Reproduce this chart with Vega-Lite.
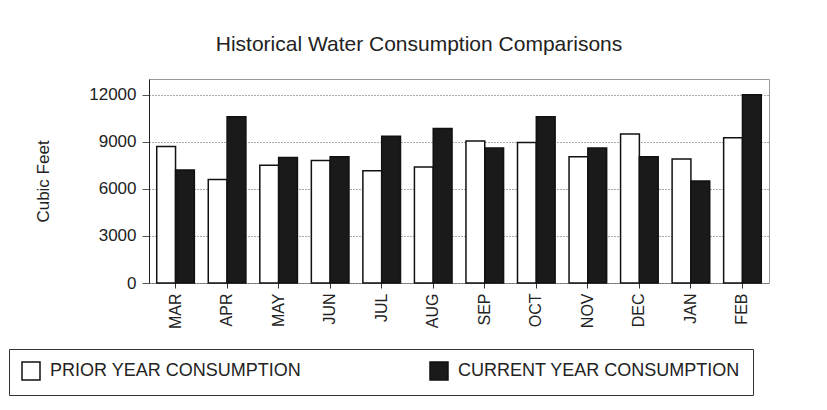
{
  "$schema": "https://vega.github.io/schema/vega-lite/v6.json",
  "width": 620,
  "height": 204,
  "padding": {"left": 8, "top": 34, "right": 8, "bottom": 5},
  "background": "white",
  "config": {
    "view": {"stroke": "#999", "strokeWidth": 1},
    "font": "Liberation Sans"
  },
  "title": {
    "text": "Historical Water Consumption Comparisons",
    "font": "Liberation Sans",
    "fontSize": 21,
    "fontWeight": "normal",
    "color": "#222",
    "offset": 24,
    "dx": -40
  },
  "data": {
    "values": [
      {"month": "MAR", "series": "PRIOR YEAR CONSUMPTION", "value": 8700},
      {"month": "MAR", "series": "CURRENT YEAR CONSUMPTION", "value": 7200},
      {"month": "APR", "series": "PRIOR YEAR CONSUMPTION", "value": 6600},
      {"month": "APR", "series": "CURRENT YEAR CONSUMPTION", "value": 10600},
      {"month": "MAY", "series": "PRIOR YEAR CONSUMPTION", "value": 7500},
      {"month": "MAY", "series": "CURRENT YEAR CONSUMPTION", "value": 8000},
      {"month": "JUN", "series": "PRIOR YEAR CONSUMPTION", "value": 7800},
      {"month": "JUN", "series": "CURRENT YEAR CONSUMPTION", "value": 8050},
      {"month": "JUL", "series": "PRIOR YEAR CONSUMPTION", "value": 7150},
      {"month": "JUL", "series": "CURRENT YEAR CONSUMPTION", "value": 9350},
      {"month": "AUG", "series": "PRIOR YEAR CONSUMPTION", "value": 7400},
      {"month": "AUG", "series": "CURRENT YEAR CONSUMPTION", "value": 9850},
      {"month": "SEP", "series": "PRIOR YEAR CONSUMPTION", "value": 9050},
      {"month": "SEP", "series": "CURRENT YEAR CONSUMPTION", "value": 8600},
      {"month": "OCT", "series": "PRIOR YEAR CONSUMPTION", "value": 8950},
      {"month": "OCT", "series": "CURRENT YEAR CONSUMPTION", "value": 10600},
      {"month": "NOV", "series": "PRIOR YEAR CONSUMPTION", "value": 8050},
      {"month": "NOV", "series": "CURRENT YEAR CONSUMPTION", "value": 8600},
      {"month": "DEC", "series": "PRIOR YEAR CONSUMPTION", "value": 9500},
      {"month": "DEC", "series": "CURRENT YEAR CONSUMPTION", "value": 8050},
      {"month": "JAN", "series": "PRIOR YEAR CONSUMPTION", "value": 7900},
      {"month": "JAN", "series": "CURRENT YEAR CONSUMPTION", "value": 6500},
      {"month": "FEB", "series": "PRIOR YEAR CONSUMPTION", "value": 9250},
      {"month": "FEB", "series": "CURRENT YEAR CONSUMPTION", "value": 12000}
    ]
  },
  "mark": {"type": "bar", "stroke": "#111", "strokeWidth": 1.5},
  "encoding": {
    "x": {
      "field": "month",
      "type": "nominal",
      "sort": ["MAR", "APR", "MAY", "JUN", "JUL", "AUG", "SEP", "OCT", "NOV", "DEC", "JAN", "FEB"],
      "scale": {"paddingInner": 0.27, "paddingOuter": 0.15},
      "axis": {
        "title": null,
        "labelAngle": -90,
        "labelFontSize": 16,
        "labelFont": "Liberation Sans",
        "labelColor": "#222",
        "domain": false,
        "ticks": true,
        "tickColor": "#333",
        "tickSize": 5,
        "labelPadding": 5
      }
    },
    "xOffset": {
      "field": "series",
      "type": "nominal",
      "sort": ["PRIOR YEAR CONSUMPTION", "CURRENT YEAR CONSUMPTION"]
    },
    "y": {
      "field": "value",
      "type": "quantitative",
      "scale": {"domain": [0, 13000], "nice": false},
      "axis": {
        "values": [0, 3000, 6000, 9000, 12000],
        "format": "d",
        "title": "Cubic Feet",
        "titleFont": "Liberation Sans",
        "titleFontSize": 17,
        "titleFontWeight": "normal",
        "titleColor": "#222",
        "titlePadding": 36,
        "labelFont": "Liberation Sans",
        "labelFontSize": 17,
        "labelColor": "#222",
        "labelPadding": 6,
        "tickSize": 7,
        "tickColor": "#555",
        "domainColor": "#222",
        "grid": true,
        "gridDash": [1, 2],
        "gridColor": "#555"
      }
    },
    "fill": {
      "field": "series",
      "type": "nominal",
      "scale": {
        "domain": ["PRIOR YEAR CONSUMPTION", "CURRENT YEAR CONSUMPTION"],
        "range": ["#ffffff", "#1a1a1a"]
      },
      "legend": {
        "orient": "none",
        "legendX": -140,
        "legendY": 270,
        "direction": "horizontal",
        "columns": 2,
        "title": null,
        "symbolType": "square",
        "symbolSize": 324,
        "symbolStrokeColor": "#111",
        "symbolStrokeWidth": 1.5,
        "labelFont": "Liberation Sans",
        "labelFontSize": 18,
        "labelColor": "#222",
        "labelLimit": 500,
        "labelOffset": 9,
        "labelExpr": "datum.value == 'CURRENT YEAR CONSUMPTION' ? datum.label + '\u00a0\u00a0\u00a0\u00a0\u00a0\u00a0\u00a0\u00a0\u00a0\u00a0\u00a0\u00a0\u00a0\u00a0' : datum.label",
        "columnPadding": 125,
        "strokeColor": "#333",
        "padding": 12
      }
    }
  }
}
